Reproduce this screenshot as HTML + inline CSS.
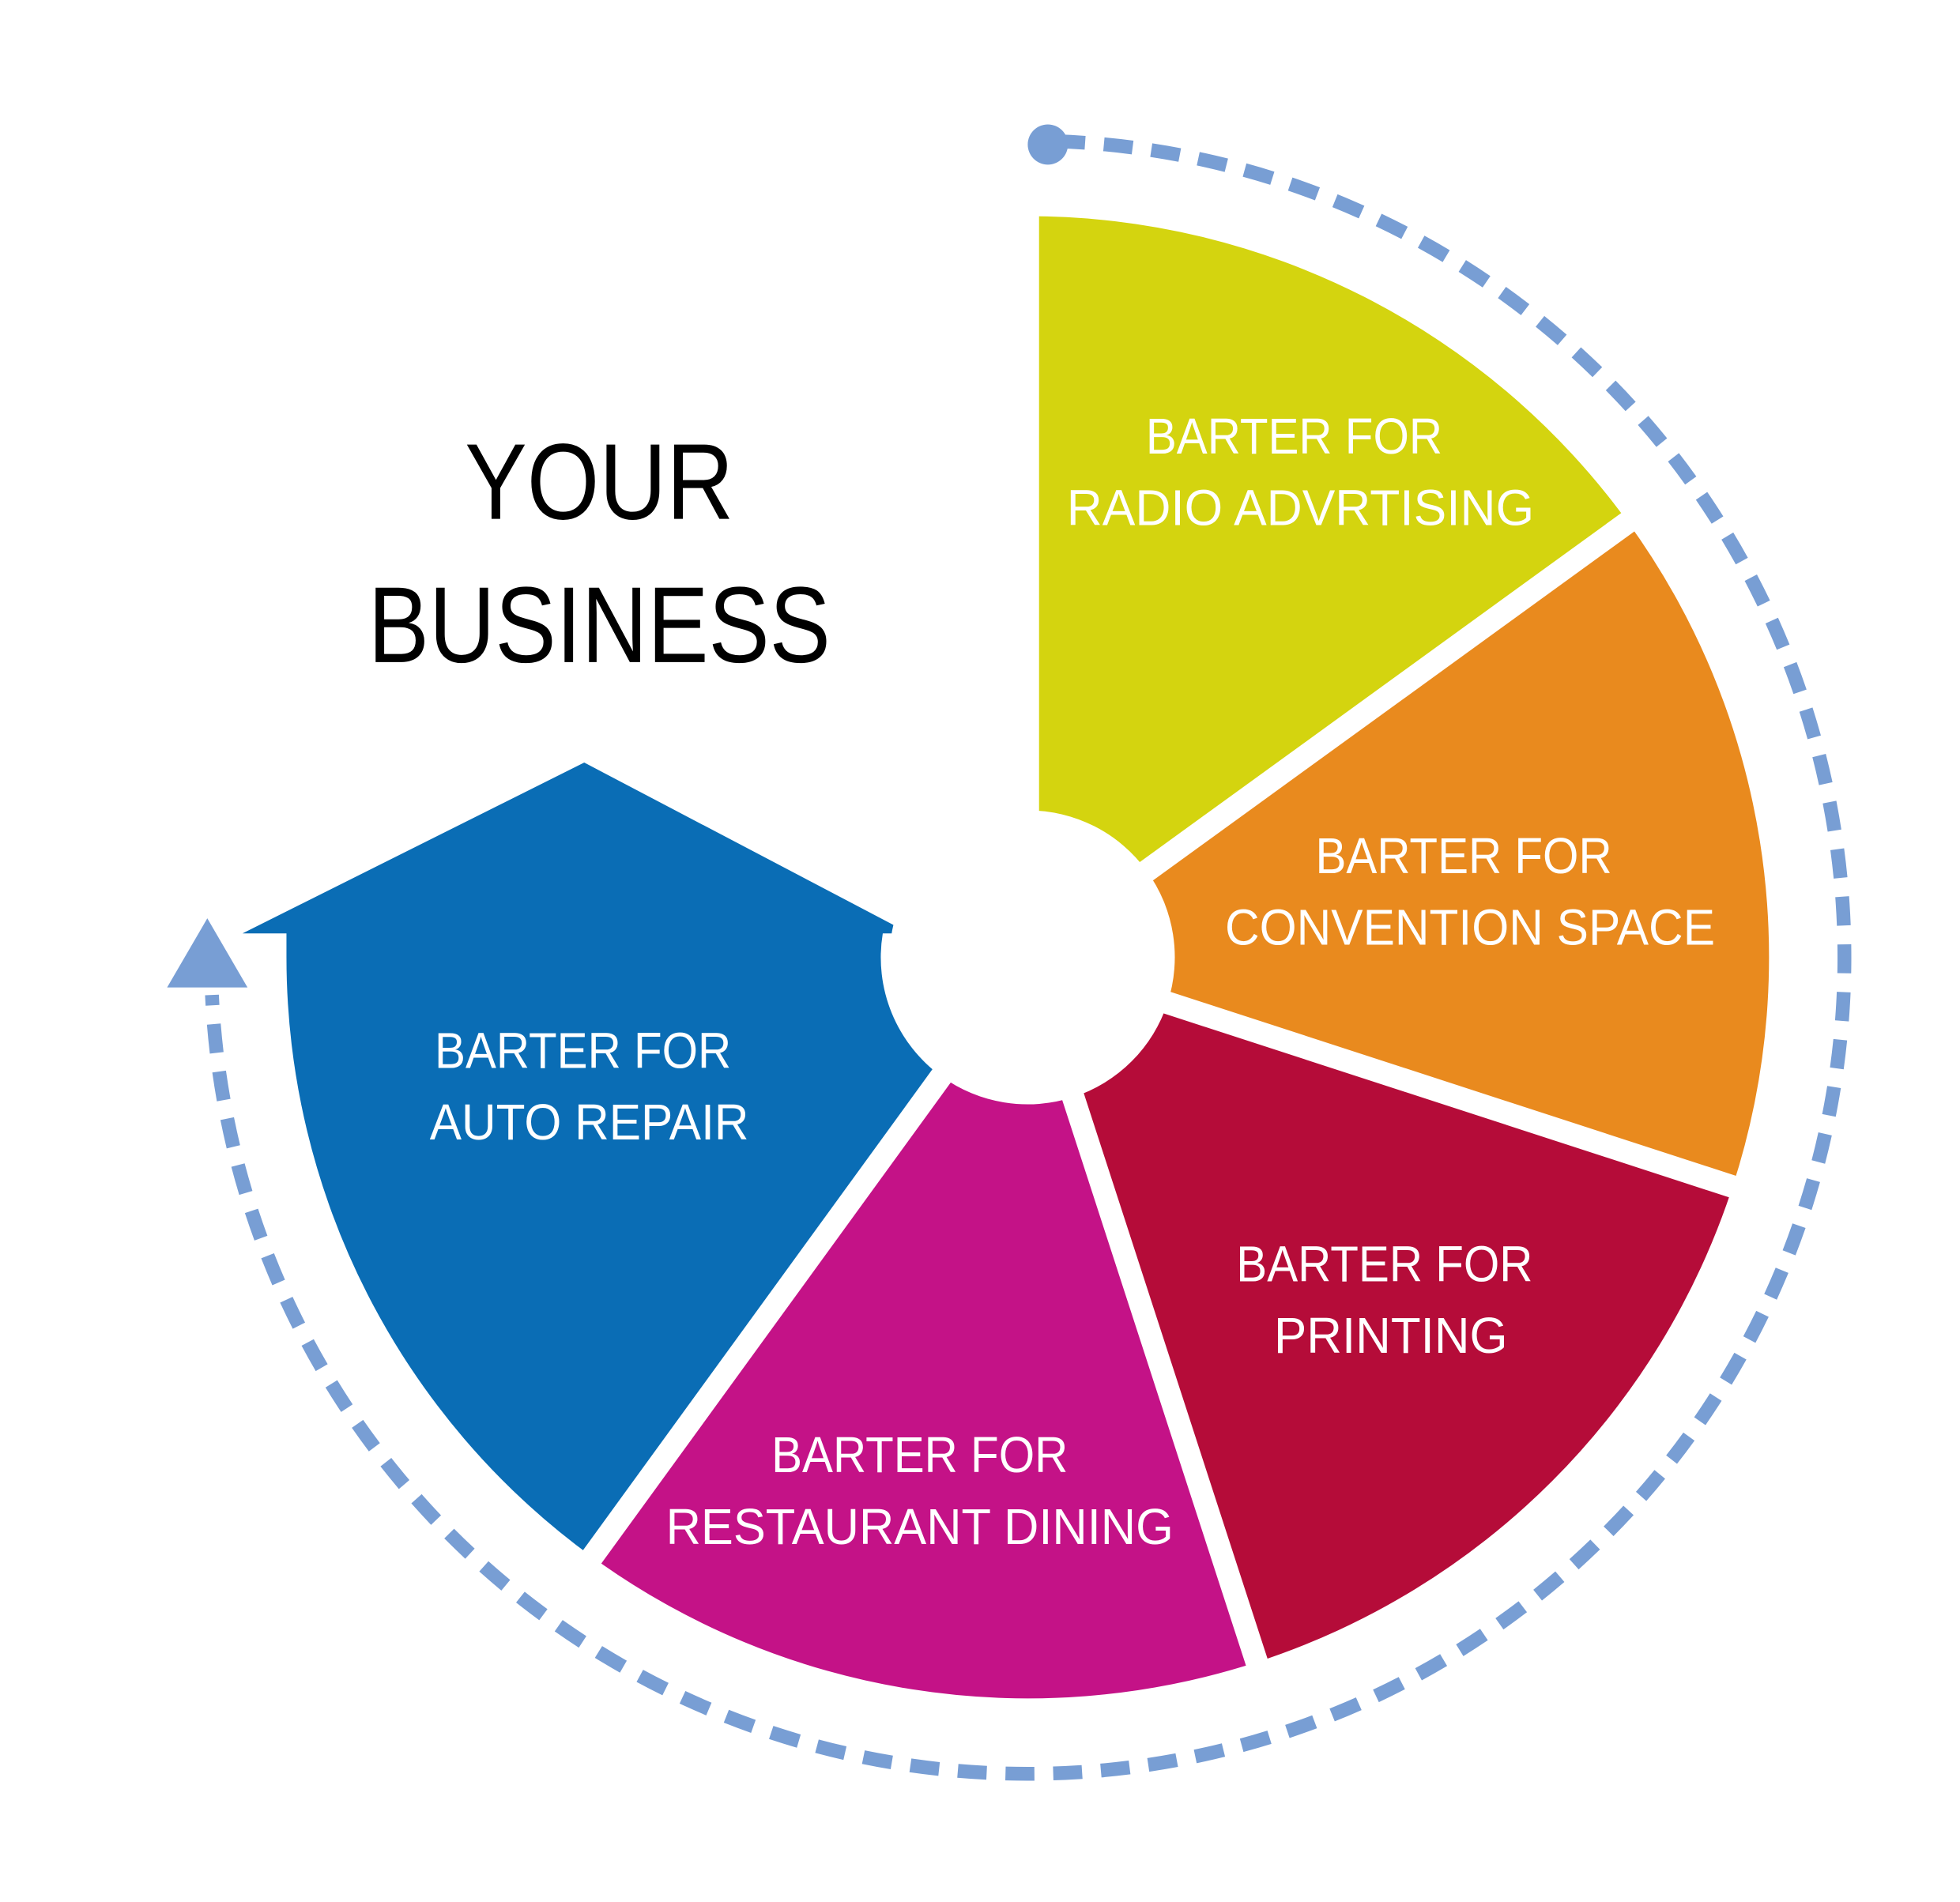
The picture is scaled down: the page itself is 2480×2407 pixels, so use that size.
<!DOCTYPE html>
<html><head><meta charset="utf-8"><style>
html,body{margin:0;padding:0;background:#fff}
svg{display:block}
text{font-family:"Liberation Sans",sans-serif}
</style></head><body>
<svg width="2480" height="2407" viewBox="0 0 1560 1514" xmlns="http://www.w3.org/2000/svg">
<rect width="1560" height="1514" fill="#fff"/>
<!-- dashed arc -->
<path d="M 840.7 112.4 A 650 650 0 1 1 168.7 792" fill="none" stroke="#789ed4" stroke-width="11" stroke-dasharray="23 15"/>
<circle cx="834" cy="115" r="16" fill="#789ed4"/>
<polygon points="165,731 133,786 197,786" fill="#789ed4"/>
<!-- sectors -->
<path d="M818 645 L818 172 A590 590 0 0 1 1295.3 415.1 L912.7 693.2 A117 117 0 0 0 818 645Z" fill="#d4d40f"/>
<path d="M912.7 693.2 L1295.3 415.1 A590 590 0 0 1 1379.1 944.3 L929.3 798.2 A117 117 0 0 0 912.7 693.2Z" fill="#e98a1e"/>
<path d="M929.3 798.2 L1379.1 944.3 A590 590 0 0 1 1000.3 1323.1 L854.2 873.3 A117 117 0 0 0 929.3 798.2Z" fill="#b50c39"/>
<path d="M854.2 873.3 L1000.3 1323.1 A590 590 0 0 1 471.2 1239.3 L749.2 856.7 A117 117 0 0 0 854.2 873.3Z" fill="#c41287"/>
<path d="M228 743 L228 762 A590 590 0 0 0 471.2 1239.3 L749.2 856.7 A117 117 0 0 1 702.6 743 L724 743 L465 607 L193 743Z" fill="#0a6db5"/>
<!-- gaps -->
<g stroke="#fff" stroke-width="18">
<line x1="818" y1="762" x2="818" y2="150"/>
<line x1="818" y1="762" x2="1320" y2="398"/>
<line x1="818" y1="762" x2="1405" y2="953"/>
<line x1="818" y1="762" x2="1009" y2="1350"/>
<line x1="818" y1="762" x2="457" y2="1259"/>
</g>
<circle cx="818" cy="762" r="110" fill="#fff"/>
<!-- title -->
<text x="477" y="413" font-size="86" text-anchor="middle" fill="#000" textLength="214" lengthAdjust="spacingAndGlyphs">YOUR</text>
<text x="477" y="527" font-size="86" text-anchor="middle" fill="#000" textLength="368" lengthAdjust="spacingAndGlyphs">BUSINESS</text>
<!-- labels -->
<g fill="#fff" font-size="40" text-anchor="middle">
<text x="1030" y="361" textLength="236" lengthAdjust="spacingAndGlyphs">BARTER FOR</text>
<text x="1035" y="418" textLength="372" lengthAdjust="spacingAndGlyphs">RADIO ADVRTISING</text>
<text x="1165" y="695" textLength="236" lengthAdjust="spacingAndGlyphs">BARTER FOR</text>
<text x="1170" y="752" textLength="390" lengthAdjust="spacingAndGlyphs">CONVENTION SPACE</text>
<text x="1102" y="1020" textLength="236" lengthAdjust="spacingAndGlyphs">BARTER FOR</text>
<text x="1107" y="1077" textLength="186" lengthAdjust="spacingAndGlyphs">PRINTING</text>
<text x="732" y="1172" textLength="236" lengthAdjust="spacingAndGlyphs">BARTER FOR</text>
<text x="732" y="1229" textLength="404" lengthAdjust="spacingAndGlyphs">RESTAURANT DINING</text>
<text x="464" y="850" textLength="236" lengthAdjust="spacingAndGlyphs">BARTER FOR</text>
<text x="469" y="907" textLength="254" lengthAdjust="spacingAndGlyphs">AUTO REPAIR</text>
</g>
</svg>
</body></html>
